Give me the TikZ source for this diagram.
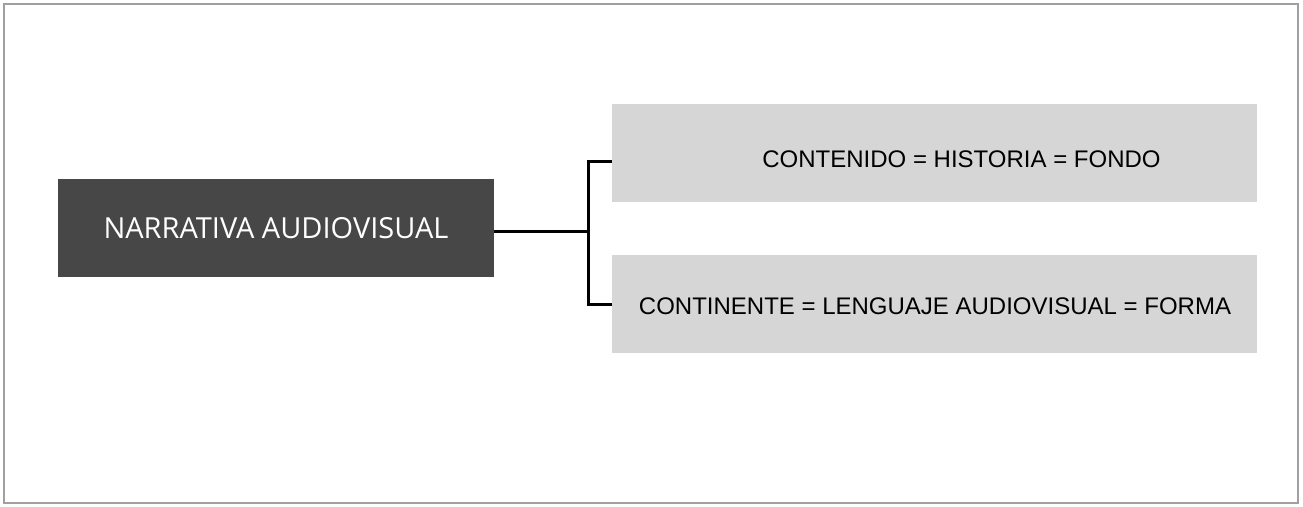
\documentclass[tikz,border=0pt]{standalone}
\usepackage{fontspec}
\setmainfont{Liberation Sans}
\newfontfamily\opensans{Open Sans}
\definecolor{darkbox}{HTML}{474747}
\definecolor{lightbox}{HTML}{D6D6D6}
\definecolor{frame}{HTML}{A0A0A0}
\begin{document}
\begin{tikzpicture}[x=0.5pt,y=-0.5pt,
  mainbox/.style={fill=darkbox,text=white,minimum width=218pt,minimum height=49pt,inner sep=0pt,font=\opensans\fontsize{14.5}{16}\selectfont},
  subbox/.style={fill=lightbox,text=black,minimum width=322.5pt,minimum height=49pt,inner sep=0pt,font=\fontsize{12}{14}\selectfont},
  conn/.style={line width=1.5pt}]
\useasboundingbox (0,0) rectangle (1303,507);
\draw[frame,line width=1pt] (4,4) rectangle (1298,503);
\node[mainbox] (n) at (276,228) {NARRATIVA AUDIOVISUAL};
\node[subbox] (a) at (934.5,153) {};
\node[font=\fontsize{12}{14}\selectfont] (at) at (961.5,159) {CONTENIDO = HISTORIA = FONDO};
\node[subbox] (b) at (934.5,304) {};
\node[font=\fontsize{12}{14}\selectfont] (bt) at (935,306) {CONTINENTE = LENGUAJE AUDIOVISUAL = FORMA};
\coordinate (j) at (588,232);
\draw[conn] (n.east |- j) -- (j);
\draw[conn] (a.west |- 0,162) -| (588,305) -- (b.west |- 0,305);
\end{tikzpicture}
\end{document}
